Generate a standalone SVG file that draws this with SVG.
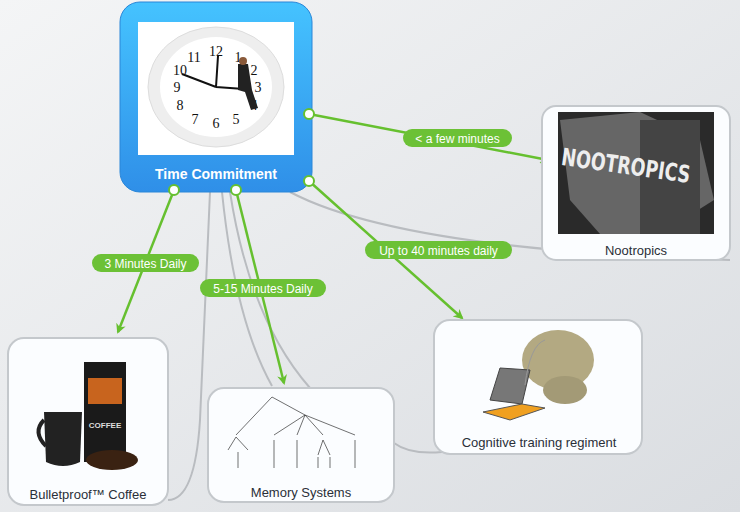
<svg xmlns="http://www.w3.org/2000/svg" width="740" height="512" viewBox="0 0 740 512">
<style>
.card{fill:#fbfdff;stroke:#c4c8cc;stroke-width:2}
.lbl{font-family:"Liberation Sans",Arial,sans-serif;font-size:13px;fill:#2a2f38;text-anchor:middle}
.pill{fill:#6cc136}
.pt{font-family:"Liberation Sans",Arial,sans-serif;font-size:12px;fill:#fff;text-anchor:middle}
.g{stroke:#66c02f;stroke-width:2.5;fill:none}
.gr{stroke:#b9bcc0;stroke-width:2;fill:none}
.dot{fill:#fff;stroke:#66c02f;stroke-width:2}
</style>
<defs>
<linearGradient id="bg" x1="0" y1="0" x2="1" y2="1"><stop offset="0" stop-color="#f4f5f6"/><stop offset="1" stop-color="#dadde1"/></linearGradient>
<linearGradient id="bl" x1="0" y1="0" x2="0" y2="1"><stop offset="0" stop-color="#45c3ff"/><stop offset="1" stop-color="#2f8fe8"/></linearGradient>
<marker id="ar" markerWidth="10" markerHeight="10" refX="8" refY="5" orient="auto" markerUnits="userSpaceOnUse"><path d="M0,0 L10,5 L0,10 L3,5 Z" fill="#66c02f"/></marker>
</defs>
<rect width="740" height="512" fill="url(#bg)"/>
<g id="connectors">
<path class="gr" d="M290,192 Q400,250 730,260"/>
<path class="gr" d="M210,192 Q205,300 200,420 Q195,500 168,500"/>
<path class="gr" d="M222,192 Q235,320 272,386"/>
<path class="gr" d="M230,192 Q250,320 310,388"/>
<path class="gr" d="M394,443 Q410,455 442,452"/>
<path class="g" d="M174,190 L118,332" marker-end="url(#ar)"/>
<path class="g" d="M236,190 L284,383" marker-end="url(#ar)"/>
<path class="g" d="M309,114 L548,160" marker-end="url(#ar)"/>
<path class="g" d="M309,181 L462,318" marker-end="url(#ar)"/>
<rect class="pill" x="92" y="254" width="107" height="18" rx="9"/><text class="pt" x="145.5" y="267.5">3 Minutes Daily</text>
<rect class="pill" x="200" y="279" width="126" height="18" rx="9"/><text class="pt" x="263" y="292.5">5-15 Minutes Daily</text>
<rect class="pill" x="403" y="129" width="109" height="18" rx="9"/><text class="pt" x="457.5" y="142.5">&lt; a few minutes</text>
<rect class="pill" x="365" y="241" width="147" height="18" rx="9"/><text class="pt" x="438.5" y="254.5">Up to 40 minutes daily</text>
</g>
<g id="time">
<rect x="120" y="2" width="192" height="190" rx="20" fill="url(#bl)" stroke="#2a86d8"/>
<rect x="138" y="22" width="156" height="133" fill="#fff"/>
<ellipse cx="216" cy="87" rx="68" ry="60" fill="#eee" stroke="#ddd"/>
<ellipse cx="216" cy="87" rx="56" ry="50" fill="#fff"/>
<g font-family="Liberation Serif,serif" font-size="14" fill="#111" text-anchor="middle">
<text x="216" y="56">12</text><text x="194" y="62">11</text><text x="180" y="75">10</text><text x="177" y="92">9</text><text x="180" y="110">8</text><text x="195" y="124">7</text><text x="216" y="128">6</text><text x="236" y="124">5</text><text x="238" y="62">1</text><text x="254" y="75">2</text><text x="258" y="92">3</text><text x="254" y="110">4</text></g>
<path d="M216,87 L218,56 M216,87 L182,74 M216,87 L244,89" stroke="#111" stroke-width="2"/>
<path d="M238,64 L248,64 L252,90 L258,108 L251,110 L245,92 L238,90 Z" fill="#222"/>
<circle cx="243" cy="61" r="4" fill="#8a5a3a"/>
<circle cx="174" cy="190" r="5" class="dot"/><circle cx="236" cy="190" r="5" class="dot"/>
<circle cx="309" cy="114" r="5" class="dot"/><circle cx="309" cy="181" r="5" class="dot"/>
<text x="216" y="179" font-family="Liberation Sans,Arial,sans-serif" font-size="14" font-weight="bold" fill="#fff" text-anchor="middle">Time Commitment</text>
</g>
<g id="nootropics">
<rect class="card" x="542" y="106" width="188" height="154" rx="14" stroke="#4ba6ee"/>
<rect x="558" y="112" width="156" height="122" fill="#2a2a2a"/>
<path d="M560,120 L640,112 L700,140 L714,200 L660,234 L600,234 L570,200 Z" fill="#666"/>
<rect x="640" y="120" width="60" height="114" fill="#444"/>
<text x="626" y="174" font-family="DejaVu Sans Condensed,Liberation Sans,sans-serif" font-size="24" font-weight="bold" fill="#eee" text-anchor="middle" textLength="130" lengthAdjust="spacingAndGlyphs" transform="rotate(8 626 165)">NOOTROPICS</text>
<text class="lbl" x="636" y="255">Nootropics</text>
</g>
<g id="coffee">
<rect class="card" x="8" y="338" width="160" height="167" rx="16"/>
<rect x="84" y="362" width="42" height="100" fill="#1a1a1a"/>
<rect x="88" y="378" width="34" height="26" fill="#c8641e"/>
<text x="105" y="428" font-family="Liberation Sans,sans-serif" font-size="8" font-weight="bold" fill="#ddd" text-anchor="middle">COFFEE</text>
<path d="M44,412 L82,412 L80,462 Q63,470 46,462 Z" fill="#222"/>
<path d="M44,420 Q32,432 46,446" stroke="#222" stroke-width="4" fill="none"/>
<ellipse cx="112" cy="460" rx="26" ry="10" fill="#3a2212"/>
<text class="lbl" x="88" y="499">Bulletproof™ Coffee</text>
</g>
<g id="memory">
<rect class="card" x="208" y="388" width="186" height="114" rx="16"/>
<g stroke="#333" stroke-width="0.7" fill="none">
<path d="M272,397 L236,435 M272,397 L305,415 M305,415 L274,435 M305,415 L297,435 M305,415 L323,435 M305,415 L355,435 M236,437 L228,450 M236,437 L248,450 M238,452 L238,468 M274,440 L274,468 M297,440 L297,468 M323,440 L318,455 M323,440 L330,455 M318,457 L318,468 M330,457 L330,468 M355,440 L355,468"/>
</g>
<text class="lbl" x="301" y="497">Memory Systems</text>
</g>
<g id="cognitive">
<rect class="card" x="434" y="320" width="208" height="134" rx="16"/>
<ellipse cx="558" cy="360" rx="36" ry="30" fill="#b3a982"/>
<ellipse cx="565" cy="390" rx="22" ry="14" fill="#a39a76"/>
<path d="M490,400 L500,368 L530,370 L522,404 Z" fill="#777" stroke="#444"/>
<path d="M483,412 L522,404 L545,408 L510,420 Z" fill="#f0a020" stroke="#555"/>
<path d="M525,385 Q530,345 545,340" stroke="#999" fill="none"/>
<text class="lbl" x="539" y="447">Cognitive training regiment</text>
</g>
</svg>
